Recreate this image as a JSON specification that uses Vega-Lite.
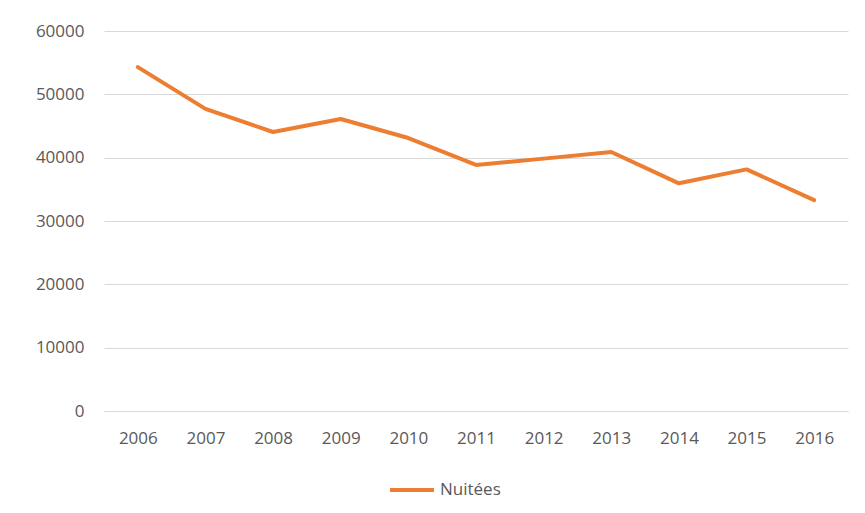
{
  "$schema": "https://vega.github.io/schema/vega-lite/v6.json",
  "autosize": "none",
  "width": 744,
  "height": 380,
  "padding": {"left": 104, "top": 31, "right": 17, "bottom": 102},
  "background": "white",
  "config": {
    "view": {"stroke": null},
    "font": "Open Sans"
  },
  "data": {
    "values": [
      {"annee": "2006", "serie": "Nuitées", "valeur": 54300},
      {"annee": "2007", "serie": "Nuitées", "valeur": 47700},
      {"annee": "2008", "serie": "Nuitées", "valeur": 44050},
      {"annee": "2009", "serie": "Nuitées", "valeur": 46100},
      {"annee": "2010", "serie": "Nuitées", "valeur": 43100},
      {"annee": "2011", "serie": "Nuitées", "valeur": 38850},
      {"annee": "2012", "serie": "Nuitées", "valeur": 39850},
      {"annee": "2013", "serie": "Nuitées", "valeur": 40900},
      {"annee": "2014", "serie": "Nuitées", "valeur": 35950},
      {"annee": "2015", "serie": "Nuitées", "valeur": 38150},
      {"annee": "2016", "serie": "Nuitées", "valeur": 33300}
    ]
  },
  "mark": {"type": "line", "strokeWidth": 4, "strokeCap": "round", "strokeJoin": "round"},
  "encoding": {
    "x": {
      "field": "annee",
      "type": "ordinal",
      "scale": {"type": "point", "padding": 0.5},
      "axis": {
        "title": null,
        "labelAngle": 0,
        "labelFont": "Open Sans",
        "labelFontSize": 17,
        "labelColor": "#595959",
        "labelPadding": 19,
        "ticks": false,
        "domain": true,
        "domainColor": "#D9D9D9",
        "grid": false
      }
    },
    "y": {
      "field": "valeur",
      "type": "quantitative",
      "scale": {"domain": [0, 60000], "nice": false},
      "axis": {
        "title": null,
        "values": [0, 10000, 20000, 30000, 40000, 50000, 60000],
        "format": "d",
        "labelFont": "Open Sans",
        "labelFontSize": 17,
        "labelColor": "#595959",
        "labelPadding": 20,
        "ticks": false,
        "domain": false,
        "grid": true,
        "gridColor": "#D9D9D9",
        "gridWidth": 1
      }
    },
    "color": {
      "field": "serie",
      "type": "nominal",
      "scale": {"range": ["#ED7D31"]},
      "legend": {
        "title": null,
        "orient": "none",
        "legendX": 284,
        "legendY": 435,
        "symbolType": "stroke",
        "symbolSize": 1936,
        "symbolStrokeWidth": 4,
        "labelFont": "Open Sans",
        "labelFontSize": 17,
        "labelColor": "#595959",
        "labelOffset": 4
      }
    }
  }
}
